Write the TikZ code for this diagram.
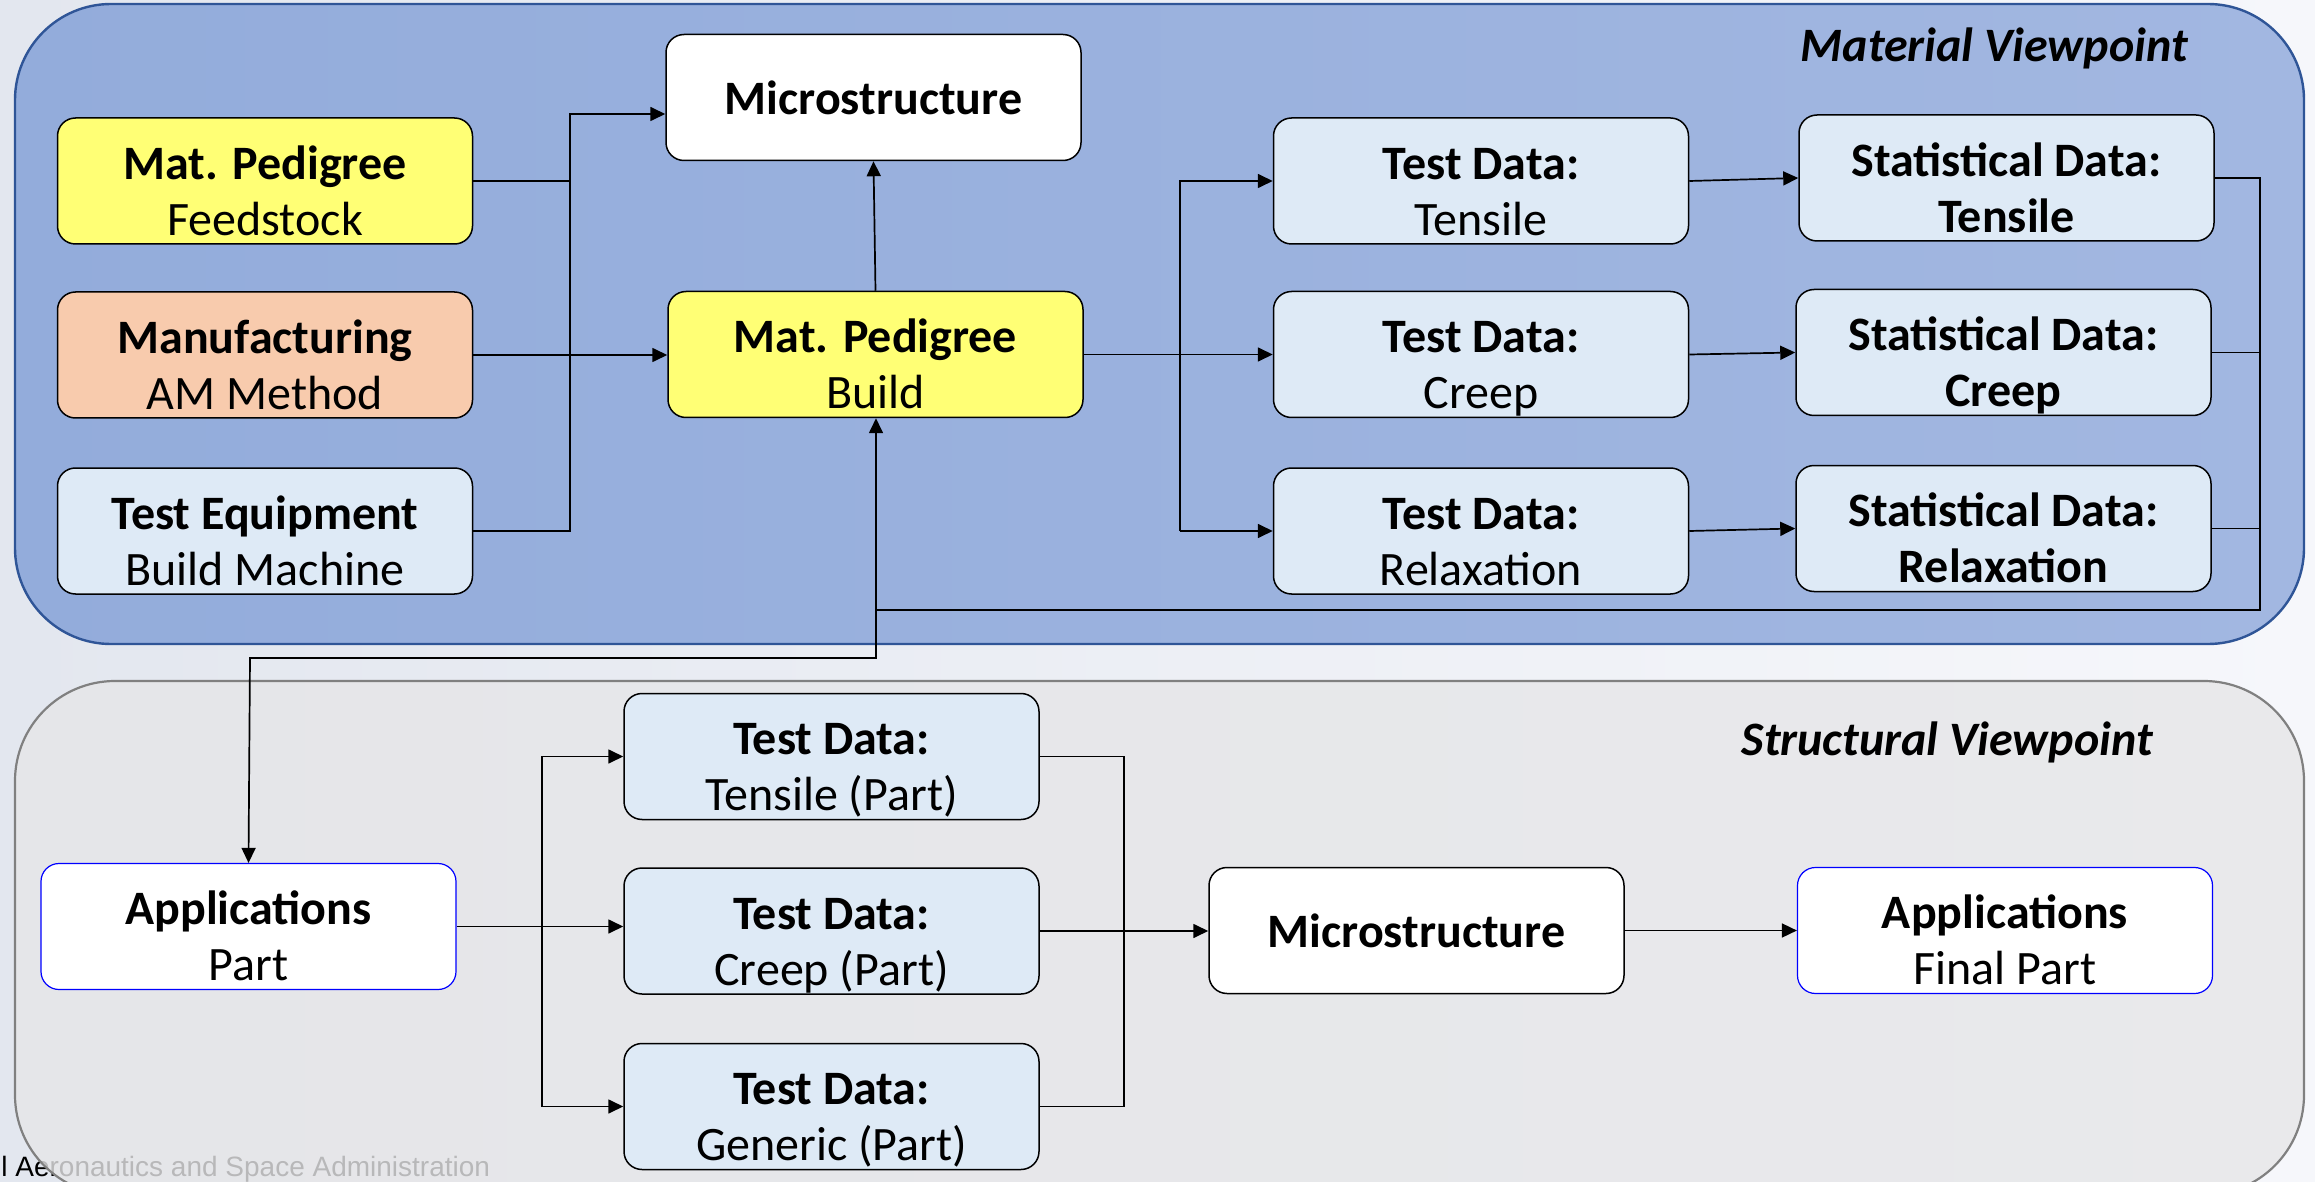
\documentclass[tikz,border=0pt]{standalone}
\usepackage{fontspec}
\setmainfont{Carlito}
\newfontfamily\footfont{Liberation Sans}
\usetikzlibrary{arrows.meta}
\definecolor{bgA}{HTML}{E3E7EF}
\definecolor{bgB}{HTML}{F6F7FB}
\definecolor{matL}{HTML}{93ACDB}
\definecolor{matR}{HTML}{A2B7E1}
\definecolor{matBorder}{HTML}{2F5597}
\definecolor{strFill}{HTML}{E6E6E8}
\definecolor{strBorder}{HTML}{808080}
\definecolor{yel}{HTML}{FFFF75}
\definecolor{ora}{HTML}{F8CBAD}
\definecolor{lblue}{HTML}{DEEAF6}
\definecolor{appBorder}{HTML}{0000FF}
% two-line node text: first baseline placed at the node centre, zero height/depth
\newcommand\twoline[2]{\raisebox{0.8pt}[0pt][0pt]{\begin{tabular}[t]{@{}c@{}}#1\\#2\end{tabular}}}
\tikzset{
  box/.style={draw=black, rounded corners=9pt, line width=0.75pt, minimum width=207.5pt,
    minimum height=63pt, align=center, inner sep=0pt, font=\fontsize{24}{28}\selectfont},
  ybox/.style={box, fill=yel},
  obox/.style={box, fill=ora},
  bbox/.style={box, fill=lblue},
  wbox/.style={box, fill=white},
  abox/.style={box, fill=white, draw=appBorder, line width=0.6pt},
  arr/.style={-{Triangle[length=7.5pt,width=7pt]}, line width=0.85pt},
  ln/.style={line width=0.85pt},
  title/.style={font=\fontsize{24}{28}\selectfont\bfseries\itshape, anchor=east, inner sep=0pt}
}
\begin{document}
\begin{tikzpicture}[x=0.5pt,y=-0.5pt]
\useasboundingbox (0,0) rectangle (2315,1182);
\clip (0,0) rectangle (2315,1182);
% background
\shade[left color=bgA, right color=bgB] (0,0) rectangle (2315,1182);
% footer text (partly behind the panel)
\node[anchor=base west, font=\footfont\fontsize{14}{16}\selectfont, inner sep=0pt] (foot) at (1,1176) {l Aeronautics and Space Administration};
% panels
\shade[left color=matL, right color=matR, rounded corners=48pt] (15,4) rectangle (2304,644);
\draw[matBorder, line width=1.2pt, rounded corners=48pt] (15,4) rectangle (2304,644);
\fill[strFill, fill opacity=0.8, rounded corners=50pt] (15,681) rectangle (2304,1195);
\draw[strBorder, line width=1.1pt, rounded corners=50pt] (15,681) rectangle (2304,1195);
\node[title] (t1) at (2188,48) {Material Viewpoint};
\node[title] (t2) at (2153,742) {Structural Viewpoint};

% material viewpoint nodes
\node[ybox] (feed) at (265,181) {\twoline{\textbf{Mat. Pedigree}}{Feedstock}};
\node[obox] (manu) at (265,355) {\twoline{\textbf{Manufacturing}}{AM Method}};
\node[bbox] (equip) at (265,531) {\twoline{\textbf{Test Equipment}}{Build Machine}};
\node[wbox] (microT) at (873.5,97.5) {\textbf{Microstructure}};
\node[ybox] (build) at (875.5,354.5) {\twoline{\textbf{Mat. Pedigree}}{Build}};
\node[bbox] (tdt) at (1481,181) {\twoline{\textbf{Test Data:}}{Tensile}};
\node[bbox] (tdc) at (1481,354.5) {\twoline{\textbf{Test Data:}}{Creep}};
\node[bbox] (tdr) at (1481,531) {\twoline{\textbf{Test Data:}}{Relaxation}};
\node[bbox] (sdt) at (2006.5,178) {\twoline{\textbf{Statistical Data:}}{\textbf{Tensile}}};
\node[bbox] (sdc) at (2003.5,352.5) {\twoline{\textbf{Statistical Data:}}{\textbf{Creep}}};
\node[bbox] (sdr) at (2003.5,528.5) {\twoline{\textbf{Statistical Data:}}{\textbf{Relaxation}}};

% structural viewpoint nodes
\node[abox] (app) at (248.5,926.5) {\twoline{\textbf{Applications}}{Part}};
\node[bbox] (tpt) at (831.5,756.5) {\twoline{\textbf{Test Data:}}{Tensile (Part)}};
\node[bbox] (tpc) at (831.5,931) {\twoline{\textbf{Test Data:}}{Creep (Part)}};
\node[bbox] (tpg) at (831.5,1106.5) {\twoline{\textbf{Test Data:}}{Generic (Part)}};
\node[wbox] (microB) at (1416.5,930.5) {\textbf{Microstructure}};
\node[abox] (final) at (2005,930.5) {\twoline{\textbf{Applications}}{Final Part}};

% junction coordinates
\coordinate (j1) at (570,114);
\coordinate (j2) at (1180,181);
\coordinate (j3) at (2260,178);
\coordinate (j4) at (876,610);
\coordinate (j5) at (876,658);
\coordinate (j6) at (250,658);
\coordinate (j7) at (542,756.5);
\coordinate (j8) at (1124,756.5);

% material connectors
\draw[arr] (feed.east) -| (j1) -- (j1 -| microT.west);
\draw[ln] (equip.east) -| (j1);
\draw[arr] (manu.east) -- (manu.east -| build.west);
\draw[arr] (build.north) -- (microT.south);
\draw[arr] (build.east) -- (build.east -| tdc.west);
\draw[arr] (j2 |- tdr.west) -- (j2) -- (tdt.west);
\draw[arr] (j2 |- tdr.west) -- (tdr.west);
\draw[arr] (tdt.east) -- (sdt.west);
\draw[arr] (tdc.east) -- (sdc.west);
\draw[arr] (tdr.east) -- (sdr.west);
\draw[ln] (sdt.east) -- (j3) |- (j4);
\draw[ln] (sdc.east) -- (sdc.east -| j3);
\draw[ln] (sdr.east) -- (sdr.east -| j3);
\draw[arr] (j4) -- (j4 |- build.south);
\draw[arr] (j4) -- (j5) -- (j6) -- (app.north);

% structural connectors
\draw[arr] (app.east) -- (app.east -| tpc.west);
\draw[arr] (j7 |- tpg.west) -- (j7) -- (tpt.west);
\draw[arr] (j7 |- tpg.west) -- (tpg.west);
\draw[ln] (tpt.east) -- (j8) -- (j8 |- tpg.east) -- (tpg.east);
\draw[arr] (tpc.east) -- (tpc.east -| microB.west);
\draw[arr] (microB.east) -- (final.west);
\end{tikzpicture}
\end{document}
